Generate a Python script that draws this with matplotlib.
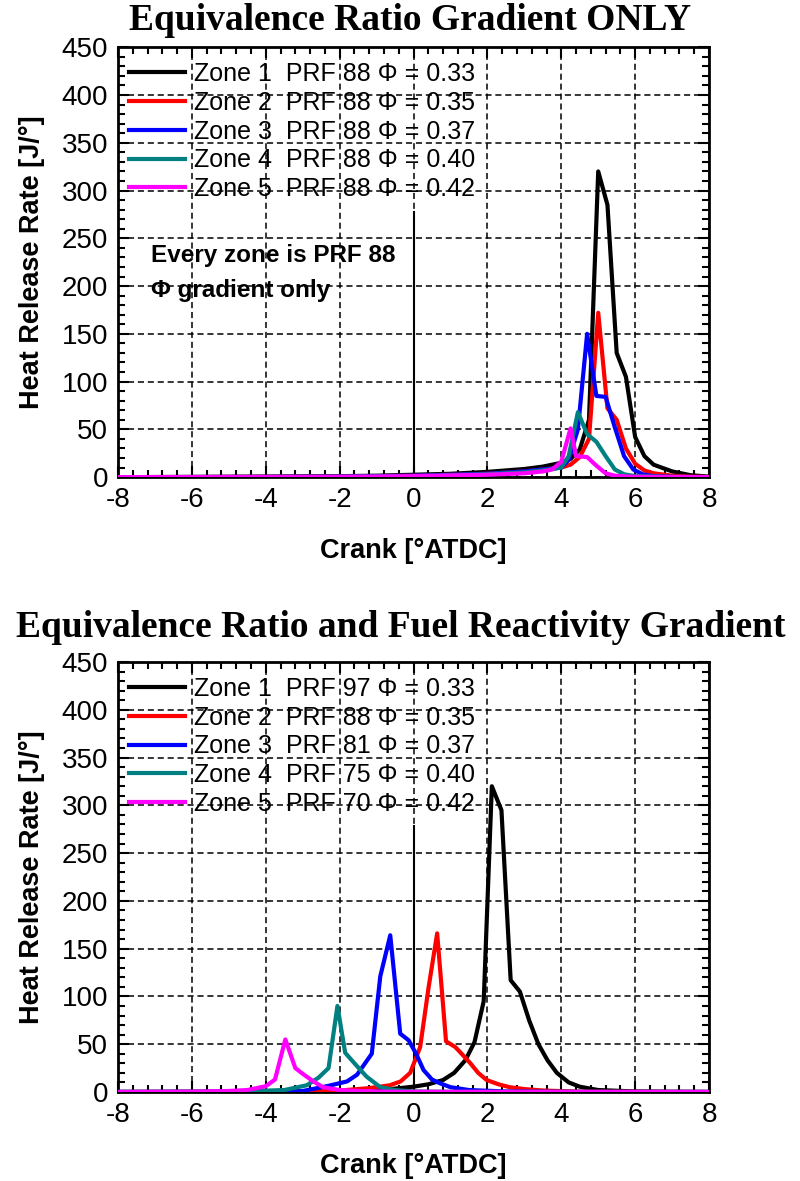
import matplotlib
matplotlib.use("Agg")
import matplotlib.pyplot as plt
from matplotlib.ticker import MultipleLocator

plt.rcParams['font.family'] = ['Liberation Sans', 'DejaVu Sans']
plt.rcParams['axes.unicode_minus'] = False

# ---------------- data: top chart (Equivalence Ratio Gradient ONLY) ----------------
top_labels = ["Zone 1  PRF 88 Φ = 0.33", "Zone 2  PRF 88 Φ = 0.35", "Zone 3  PRF 88 Φ = 0.37",
              "Zone 4  PRF 88 Φ = 0.40", "Zone 5  PRF 88 Φ = 0.42"]
top_x1 = [-8, -6, -4, -2, -1, 0, 1, 2, 3, 3.5, 4.0, 4.25, 4.5, 4.75, 5.0, 5.25, 5.5, 5.75, 6.0, 6.25, 6.5, 7.0, 7.5, 8.0]
top_y1 = [0, 0.2, 0.5, 1, 1.5, 2.5, 3.5, 5.5, 8.5, 11, 15, 19, 29, 60, 320, 285, 130, 105, 42, 22, 13, 6, 2, 0.5]
top_x2 = [-8, -6, -4, -2, -1, 0, 1, 2, 3, 3.5, 4.0, 4.25, 4.5, 4.75, 5.0, 5.25, 5.5, 5.75, 6.0, 6.25, 6.5, 7.0, 7.5, 8.0]
top_y2 = [0, 0.1, 0.3, 0.6, 1, 1.5, 2.5, 3.5, 6, 8, 10, 13, 21, 40, 172, 72, 60, 30, 14, 7, 4, 1.5, 0.5, 0.2]
top_x3 = [-8, -4, -2, 0, 2, 3, 3.5, 4.0, 4.2, 4.45, 4.7, 4.95, 5.2, 5.45, 5.7, 5.95, 6.2, 6.5, 7, 8]
top_y3 = [0, 0.2, 0.5, 1.5, 3.5, 6, 8, 10, 18, 50, 150, 85, 84, 52, 22, 8, 3, 1, 0.3, 0]
top_x4 = [-8, -4, -2, 0, 2, 3, 3.5, 4.0, 4.2, 4.45, 4.7, 4.95, 5.2, 5.45, 5.7, 6.0, 7, 8]
top_y4 = [0, 0.2, 0.4, 1, 3, 5, 7, 10, 22, 68, 45, 37, 22, 8, 3, 1, 0.2, 0]
top_x5 = [-8, -4, -2, 0, 2, 3, 3.5, 3.75, 4.0, 4.25, 4.4, 4.7, 4.95, 5.2, 5.45, 5.8, 7, 8]
top_y5 = [0, 0.1, 0.3, 1, 2.5, 4, 6, 8, 16, 51, 22, 21, 12, 4, 1.5, 0.5, 0.1, 0]

# ---------------- data: bottom chart (Equivalence Ratio and Fuel Reactivity Gradient) ----------------
bot_labels = ["Zone 1  PRF 97 Φ = 0.33", "Zone 2  PRF 88 Φ = 0.35", "Zone 3  PRF 81 Φ = 0.37",
              "Zone 4  PRF 75 Φ = 0.40", "Zone 5  PRF 70 Φ = 0.42"]
bot_x1 = [-8, -4, -2, -1, -0.5, 0, 0.4, 0.8, 1.1, 1.4, 1.65, 1.9, 2.12, 2.38, 2.63, 2.88, 3.13, 3.38, 3.63, 3.88, 4.2, 4.5, 5, 6, 7, 8]
bot_y1 = [0, 0.2, 0.8, 2, 3.5, 5.5, 8, 12.5, 20, 33, 52, 95, 320, 295, 117, 105, 75, 50, 33, 20, 10, 5.5, 2, 0.5, 0.1, 0]
bot_x2 = [-8, -5, -3, -2, -1.2, -0.64, -0.35, -0.09, 0.18, 0.41, 0.64, 0.88, 1.13, 1.35, 1.54, 1.75, 1.98, 2.3, 2.6, 3.0, 3.5, 4.5, 8]
bot_y2 = [0, 0.2, 0.8, 1.5, 4, 7, 11, 20, 47, 110, 166, 53, 47, 38, 30, 20, 12.5, 8, 5, 3, 1.5, 0.3, 0]
bot_x3 = [-8, -5, -3, -2.35, -1.8, -1.53, -1.13, -0.9, -0.63, -0.36, -0.13, 0.07, 0.27, 0.5, 0.72, 1.0, 1.5, 2.5, 4, 8]
bot_y3 = [0, 0.2, 1, 6, 11, 18, 40, 121, 164, 61, 54, 40, 23, 13, 9, 5, 2, 0.5, 0.1, 0]
bot_x4 = [-8, -5, -3.5, -2.89, -2.57, -2.3, -2.06, -1.85, -1.53, -1.27, -0.9, -0.5, 0, 1, 8]
bot_y4 = [0, 0.2, 2, 7, 15, 25, 90, 41, 27, 16, 5, 2, 0.5, 0.1, 0]
bot_x5 = [-8, -6, -5, -4.5, -4.0, -3.75, -3.47, -3.2, -3.0, -2.71, -2.45, -2.0, -1.5, -0.5, 8]
bot_y5 = [0, 0.2, 1, 2, 6, 13, 55, 25, 19, 11, 5, 2, 1, 0.2, 0]

colors = ["#000000", "#ff0000", "#0000ff", "#008080", "#ff00ff"]

TICK_FS = 20
LAB_FS = 19.5
LEG_FS = 18
TITLE_FS = 27

fig = plt.figure(figsize=(8.0, 11.81), dpi=100)


def setup_axes(ax):
    ax.set_xlim(-8, 8)
    ax.set_ylim(0, 450)
    ax.xaxis.set_major_locator(MultipleLocator(2))
    ax.xaxis.set_minor_locator(MultipleLocator(0.4))
    ax.yaxis.set_major_locator(MultipleLocator(50))
    ax.yaxis.set_minor_locator(MultipleLocator(10))
    ax.tick_params(which='both', direction='in', top=True, right=True, colors='black',
                   labelsize=TICK_FS, width=1.5)
    ax.tick_params(which='major', length=8, pad=7)
    ax.tick_params(which='minor', length=5)
    ax.grid(True, which='major', color='black', linestyle=(0, (4, 2.5)), linewidth=1.1)
    for s in ax.spines.values():
        s.set_linewidth(2)
    ax.set_xlabel("Crank [°ATDC]", fontsize=LAB_FS, fontweight='bold', labelpad=18)
    ax.set_ylabel("Heat Release Rate [J/°]", fontsize=LAB_FS, fontweight='bold', labelpad=12)
    ax.plot([0, 0], [0, 278], color='black', linewidth=1.5, zorder=2)


def draw(ax, xs, ys, labels):
    handles = []
    for x, y, c, lab in zip(xs, ys, colors, labels):
        h, = ax.plot(x, y, color=c, linewidth=3, label=lab, zorder=3)
        handles.append(h)
    ax.legend(handles=handles, loc='upper left', bbox_to_anchor=(-0.011, 1.006), frameon=False,
              fontsize=LEG_FS, handlelength=2.25, handletextpad=0.35, labelspacing=0.19,
              borderaxespad=0.45, borderpad=0.25)


ax1 = fig.add_axes([0.1475, 0.596, 0.7388, 0.364])
setup_axes(ax1)
draw(ax1, [top_x1, top_x2, top_x3, top_x4, top_x5],
     [top_y1, top_y2, top_y3, top_y4, top_y5], top_labels)
ax1.text(-7.1, 232, "Every zone is PRF 88", fontsize=17.5, fontweight='bold', va='center', ha='left')
ax1.text(-7.1, 195, "Φ gradient only", fontsize=17.5, fontweight='bold', va='center', ha='left')

ax2 = fig.add_axes([0.1475, 0.0754, 0.7388, 0.364])
setup_axes(ax2)
draw(ax2, [bot_x1, bot_x2, bot_x3, bot_x4, bot_x5],
     [bot_y1, bot_y2, bot_y3, bot_y4, bot_y5], bot_labels)

fig.text(0.5125, 0.983, "Equivalence Ratio Gradient ONLY", family='Liberation Serif',
         fontsize=TITLE_FS, fontweight='bold', ha='center', va='center')
fig.text(0.501, 0.4685, "Equivalence Ratio and Fuel Reactivity Gradient", family='Liberation Serif',
         fontsize=TITLE_FS, fontweight='bold', ha='center', va='center')

fig.savefig("out.png", dpi=100)
